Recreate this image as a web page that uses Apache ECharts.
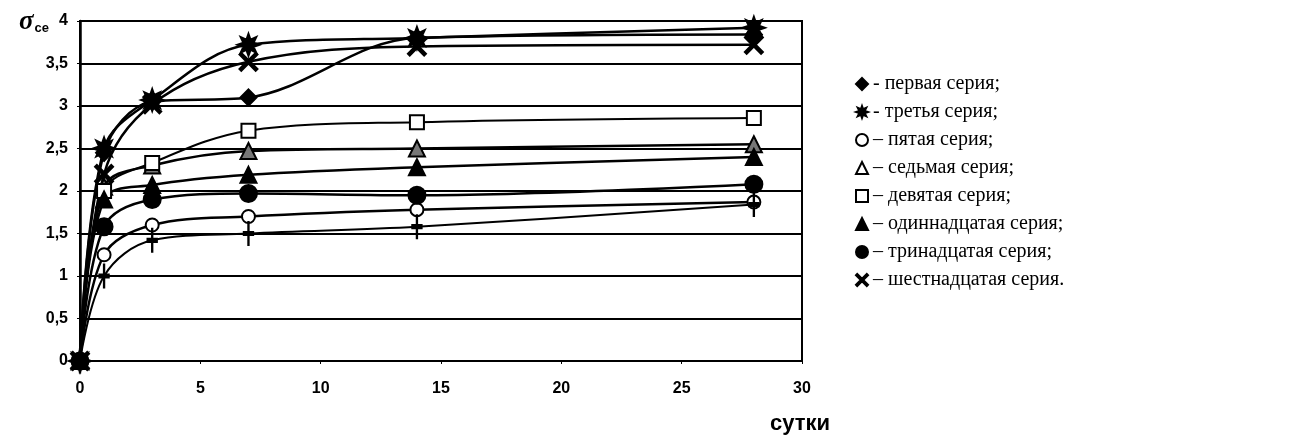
<!DOCTYPE html>
<html lang="ru">

<head>
    <meta charset="UTF-8">
    <title>sigma ce</title>
    <script src="https://cdn.jsdelivr.net/npm/echarts@6/dist/echarts.min.js"></script>
    <style>
        * {
            margin: 0;
            padding: 0
        }

        html,
        body {
            width: 100%;
            height: 100%;
            background: #fff;
        }

        #main {
            width: 1291px;
            height: 443px;
        }
    </style>
</head>

<body>
    <div id="main"></div>
    <script type="text/javascript">
        // сутки
        var days = [0, 1, 3, 7, 14, 28];

        var s1 = [0, 2.45, 3.05, 3.1, 3.8, 3.84];   // первая
        var s3 = [0, 2.5, 3.07, 3.72, 3.8, 3.92];   // третья
        var s5 = [0, 1.25, 1.6, 1.7, 1.78, 1.87];   // пятая
        var s7 = [0, 2.05, 2.3, 2.47, 2.5, 2.55];   // седьмая
        var s9 = [0, 2.0, 2.33, 2.71, 2.81, 2.86];  // девятая
        var s11 = [0, 1.9, 2.07, 2.19, 2.28, 2.4];  // одиннадцатая
        var s13 = [0, 1.58, 1.9, 1.97, 1.95, 2.08]; // тринадцатая
        var s16 = [0, 2.2, 3.02, 3.52, 3.7, 3.72];  // шестнадцатая
        var sPlus = [0, 1.0, 1.42, 1.5, 1.58, 1.84]; // без подписи

        var yTicks = [0, 0.5, 1, 1.5, 2, 2.5, 3, 3.5, 4];

        var names = ['первая серия', 'третья серия', 'пятая серия', 'седьмая серия',
            'девятая серия', 'одиннадцатая серия', 'тринадцатая серия', 'шестнадцатая серия'];
        var dashes = ['- ', '- ', '– ', '– ', '– ', '– ', '– ', '– '];
        var ends = [';', ';', ';', ';', ';', ';', ';', '.'];

        var STAR = 'path://M10 0L4.62 1.91L7.07 7.07L1.91 4.62L0 10L-1.91 4.62L-7.07 7.07L-4.62 1.91L-10 0L-4.62 -1.91L-7.07 -7.07L-1.91 -4.62L0 -10L1.91 -4.62L7.07 -7.07L4.62 -1.91Z';
        var CROSS = 'path://M-10,-8L-8,-10L0,-2L8,-10L10,-8L2,0L10,8L8,10L0,2L-8,10L-10,8L-2,0Z';
        var PLUS = 'path://M-1,-10L1,-10L1,-1L10,-1L10,1L1,1L1,10L-1,10L-1,1L-10,1L-10,-1L-1,-1Z';

        function pts(vals) {
            return days.map(function (d, i) { return [d, vals[i]]; });
        }

        function line(name, vals, symbol, size, fill, width) {
            return {
                name: name,
                type: 'line',
                smooth: 0.35,
                data: pts(vals),
                symbol: symbol,
                symbolSize: size,
                showAllSymbol: true,
                lineStyle: { color: '#000', width: width || 2.5 },
                itemStyle: { color: fill, borderColor: '#000', borderWidth: 2 },
                z: 3
            };
        }

        var myChart = echarts.init(document.getElementById('main'));

        var option = {
            backgroundColor: '#fff',
            animation: false,
            title: {
                text: '{s|σ}{sub|ce}',
                left: 14,
                top: 4,
                textStyle: {
                    rich: {
                        s: { fontFamily: 'Liberation Serif', fontStyle: 'italic', fontWeight: 'bold', fontSize: 27, color: '#000' },
                        sub: { fontFamily: 'Liberation Sans', fontWeight: 'bold', fontSize: 13, color: '#000', padding: [12, 0, 0, 1] }
                    }
                }
            },
            legend: {
                orient: 'vertical',
                left: 850,
                top: 69,
                itemGap: 8,
                itemWidth: 12,
                itemHeight: 12,
                textStyle: { fontFamily: 'Liberation Serif', fontSize: 20, color: '#000' },
                formatter: function (n) {
                    var i = names.indexOf(n);
                    return dashes[i] + n + ends[i];
                },
                data: [
                    { name: names[0], icon: 'diamond', itemStyle: { color: '#000' } },
                    { name: names[1], icon: STAR, itemStyle: { color: '#000' } },
                    { name: names[2], icon: 'emptyCircle', itemStyle: { color: '#000' } },
                    { name: names[3], icon: 'emptyTriangle', itemStyle: { color: '#000' } },
                    { name: names[4], icon: 'emptyRect', itemStyle: { color: '#000' } },
                    { name: names[5], icon: 'triangle', itemStyle: { color: '#000' } },
                    { name: names[6], icon: 'circle', itemStyle: { color: '#000' } },
                    { name: names[7], icon: CROSS, itemStyle: { color: '#000' } }
                ]
            },
            grid: {
                left: 80,
                right: 489,
                top: 21,
                bottom: 82,
                show: true,
                borderColor: '#000',
                borderWidth: 2
            },
            xAxis: {
                type: 'value',
                min: 0,
                max: 30,
                interval: 5,
                name: 'сутки',
                nameLocation: 'end',
                nameGap: -2,
                nameTextStyle: {
                    fontFamily: 'Liberation Sans', fontWeight: 'bold', fontSize: 22, color: '#000',
                    align: 'center', verticalAlign: 'top', padding: [52, 0, 0, 0]
                },
                axisLine: { lineStyle: { color: '#000', width: 2 } },
                axisTick: { show: true, length: 3, lineStyle: { color: '#000' } },
                axisLabel: { fontFamily: 'Liberation Sans', fontWeight: 'bold', fontSize: 16, color: '#000', margin: 20 },
                splitLine: { show: false }
            },
            yAxis: {
                type: 'value',
                min: yTicks[0],
                max: yTicks[yTicks.length - 1],
                interval: 0.5,
                axisLine: { show: true, lineStyle: { color: '#000', width: 2.5 } },
                axisTick: { show: true, length: 3, lineStyle: { color: '#000' } },
                axisLabel: {
                    fontFamily: 'Liberation Sans', fontWeight: 'bold', fontSize: 16, color: '#000', margin: 12,
                    formatter: function (v) { return String(v).replace('.', ','); }
                },
                splitLine: { show: true, lineStyle: { color: '#000', width: 2 } }
            },
            series: [
                line(names[0], s1, 'diamond', 16, '#000'),
                line(names[1], s3, STAR, 22, '#000'),
                line(names[2], s5, 'circle', 13, '#fff'),
                line(names[3], s7, 'triangle', 16, '#777'),
                line(names[4], s9, 'rect', 14, '#fff', 2),
                line(names[5], s11, 'triangle', 16, '#000'),
                line(names[6], s13, 'circle', 17, '#000'),
                line(names[7], s16, CROSS, 18, '#000'),
                line('плюс', sPlus, PLUS, [10, 22], '#000', 2)
            ]
        };

        myChart.setOption(option);
    </script>
</body>

</html>
